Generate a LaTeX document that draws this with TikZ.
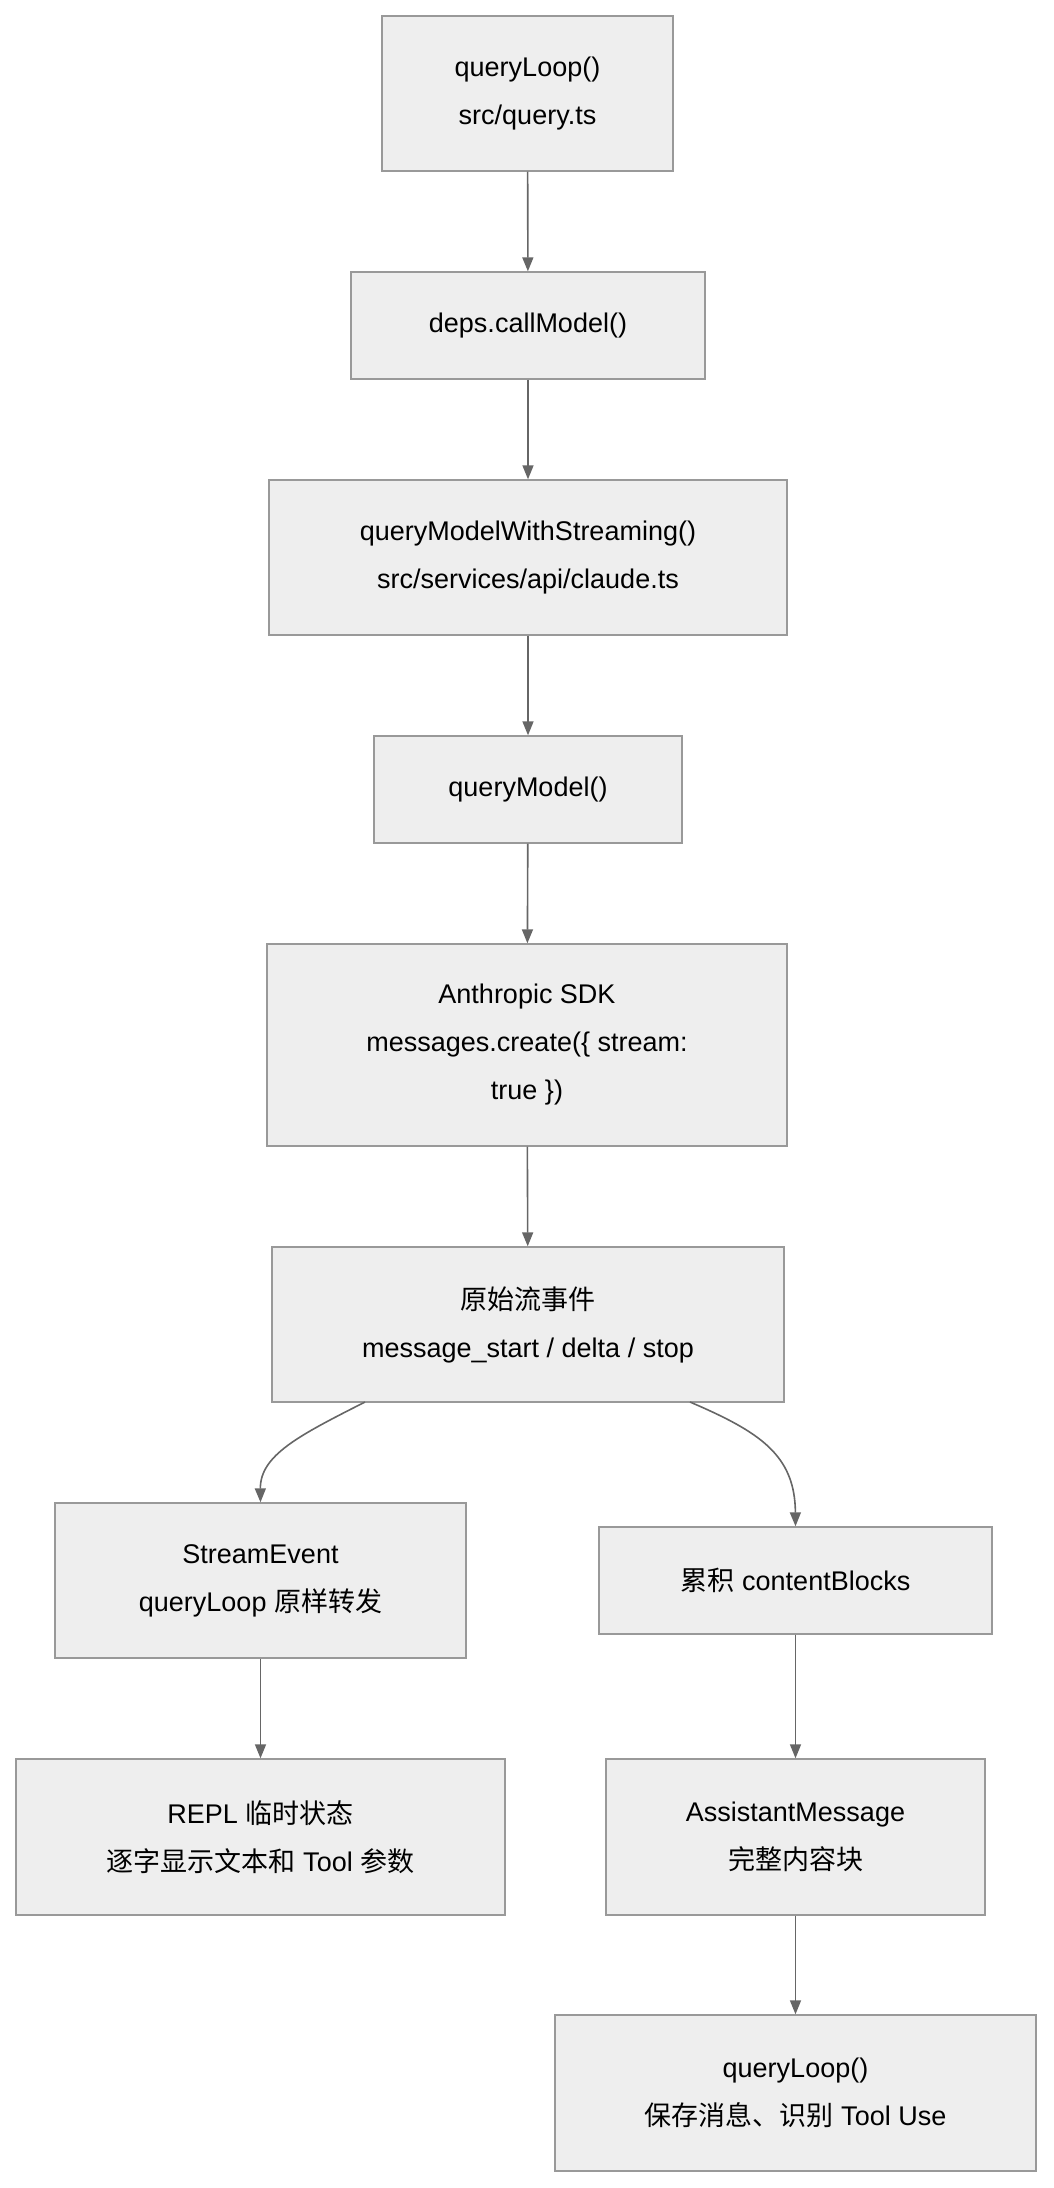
\documentclass[tikz,border=0pt]{standalone}
\usepackage{fontspec}
\setmainfont{Liberation Sans}
\newfontfamily\cjk{Noto Sans CJK SC}
\usetikzlibrary{arrows.meta}
\definecolor{bx}{HTML}{EEEEEE}
\definecolor{bd}{HTML}{999999}
\definecolor{ar}{HTML}{666666}
\begin{document}
\begin{tikzpicture}[x=1pt,y=-1pt,
 b/.style={draw=bd,fill=bx,line width=1.4pt,align=center,font=\fontsize{27}{48}\selectfont,inner sep=0pt},
 a/.style={draw=ar,line width=1.6pt,-{Triangle[length=14pt,width=11pt]}}]
\useasboundingbox (0,0) rectangle (1054,2188);
\newcommand\bx[6]{\node[b,minimum width=#3-#2,minimum height=#5-#4] (#1) at ({(#2+#3)/2},{(#4+#5)/2}) {#6};}
\bx{n1}{382}{673}{16}{171}{queryLoop()\\src/query.ts}
\bx{n2}{351}{705}{272}{379}{deps.callModel()}
\bx{n3}{269}{787}{480}{635}{queryModelWithStreaming()\\src/services/api/claude.ts}
\bx{n4}{374}{682}{736}{843}{queryModel()}
\bx{n5}{267}{787}{944}{1146}{Anthropic SDK\\messages.create(\{ stream:\\true \})}
\bx{n6}{272}{784}{1247}{1402}{{\cjk 原始流事件}\\message\_start / delta / stop}
\bx{n7}{55}{466}{1503}{1658}{StreamEvent\\queryLoop {\cjk 原样转发}}
\bx{n8}{599}{992}{1527}{1634}{{\cjk 累积} contentBlocks}
\bx{n9}{16}{505}{1759}{1915}{REPL {\cjk 临时状态}\\{\cjk 逐字显示文本和} Tool {\cjk 参数}}
\bx{n10}{606}{985}{1759}{1915}{AssistantMessage\\{\cjk 完整内容块}}
\bx{n11}{555}{1036}{2015}{2171}{queryLoop()\\{\cjk 保存消息、识别} Tool Use}
\draw[a] (n1) -- (n2);
\draw[a] (n2) -- (n3);
\draw[a] (n3) -- (n4);
\draw[a] (n4) -- (n5);
\draw[a] (n5) -- (n6);
\draw[a] (365,1402) .. controls (300,1435) and (260,1455) .. (n7.north);
\draw[a] (690,1402) .. controls (760,1432) and (795,1455) .. (n8.north);
\draw[a] (n7) -- (n9);
\draw[a] (n8) -- (n10);
\draw[a] (n10) -- (n11);
\end{tikzpicture}
\end{document}
